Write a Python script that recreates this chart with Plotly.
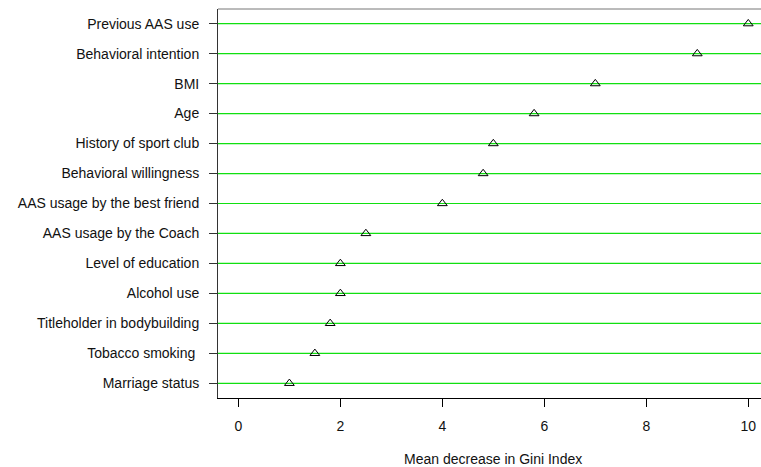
import plotly.graph_objects as go

categories = [
    "Previous AAS use",
    "Behavioral intention",
    "BMI",
    "Age",
    "History of sport club",
    "Behavioral willingness",
    "AAS usage by the best friend",
    "AAS usage by the Coach",
    "Level of education",
    "Alcohol use",
    "Titleholder in bodybuilding",
    "Tobacco smoking ",
    "Marriage status",
]
gini = [10.0, 9.0, 7.0, 5.8, 5.0, 4.8, 4.0, 2.5, 2.0, 2.0, 1.8, 1.5, 1.0]
x_ticks = [0, 2, 4, 6, 8, 10]

n = len(categories)
ypos = [n - i for i in range(n)]

fig = go.Figure()
fig.add_trace(go.Scatter(
    x=gini, y=ypos, mode="markers",
    marker=dict(symbol="triangle-up-open", size=8.5, color="black",
                line=dict(width=1, color="black")),
    showlegend=False, cliponaxis=False,
))

font = dict(family="Liberation Sans, Arial, sans-serif", size=14, color="#111")

shapes = [dict(type="line", xref="paper", yref="y", x0=0, x1=1, y0=yv, y1=yv,
               layer="below", line=dict(color="#11e011", width=1.2))
          for yv in ypos]
shapes.append(dict(type="line", xref="paper", yref="paper", x0=0, x1=1, y0=1, y1=1,
                   line=dict(color="#777", width=1)))

fig.update_layout(
    width=761, height=467,
    margin=dict(l=218, r=0, t=9, b=69),
    paper_bgcolor="white", plot_bgcolor="white",
    font=font,
    xaxis=dict(
        range=[-0.4, 10.25], tickvals=x_ticks, ticktext=[str(v) for v in x_ticks],
        ticks="outside", ticklen=8, tickcolor="black", tickwidth=1,
        showline=True, linecolor="black", linewidth=1, mirror=False,
        showgrid=False, zeroline=False, tickfont=font, ticklabelstandoff=7,
    ),
    yaxis=dict(
        range=[0.51, n + 0.49], tickvals=ypos, ticktext=categories,
        ticks="outside", ticklen=8, tickcolor="#333", tickwidth=1,
        showline=True, linecolor="#333", linewidth=1, mirror=False,
        showgrid=False, zeroline=False, tickfont=font, ticklabelstandoff=7,
    ),
    shapes=shapes,
    annotations=[dict(text="Mean decrease in Gini Index", xref="x", yref="paper",
                      x=5.0, y=-0.157, yanchor="middle", xanchor="center",
                      showarrow=False, font=font)],
)

fig.write_html("out.html", config={"displayModeBar": False},
               post_script="document.body.style.margin='0';document.body.style.padding='0';")
